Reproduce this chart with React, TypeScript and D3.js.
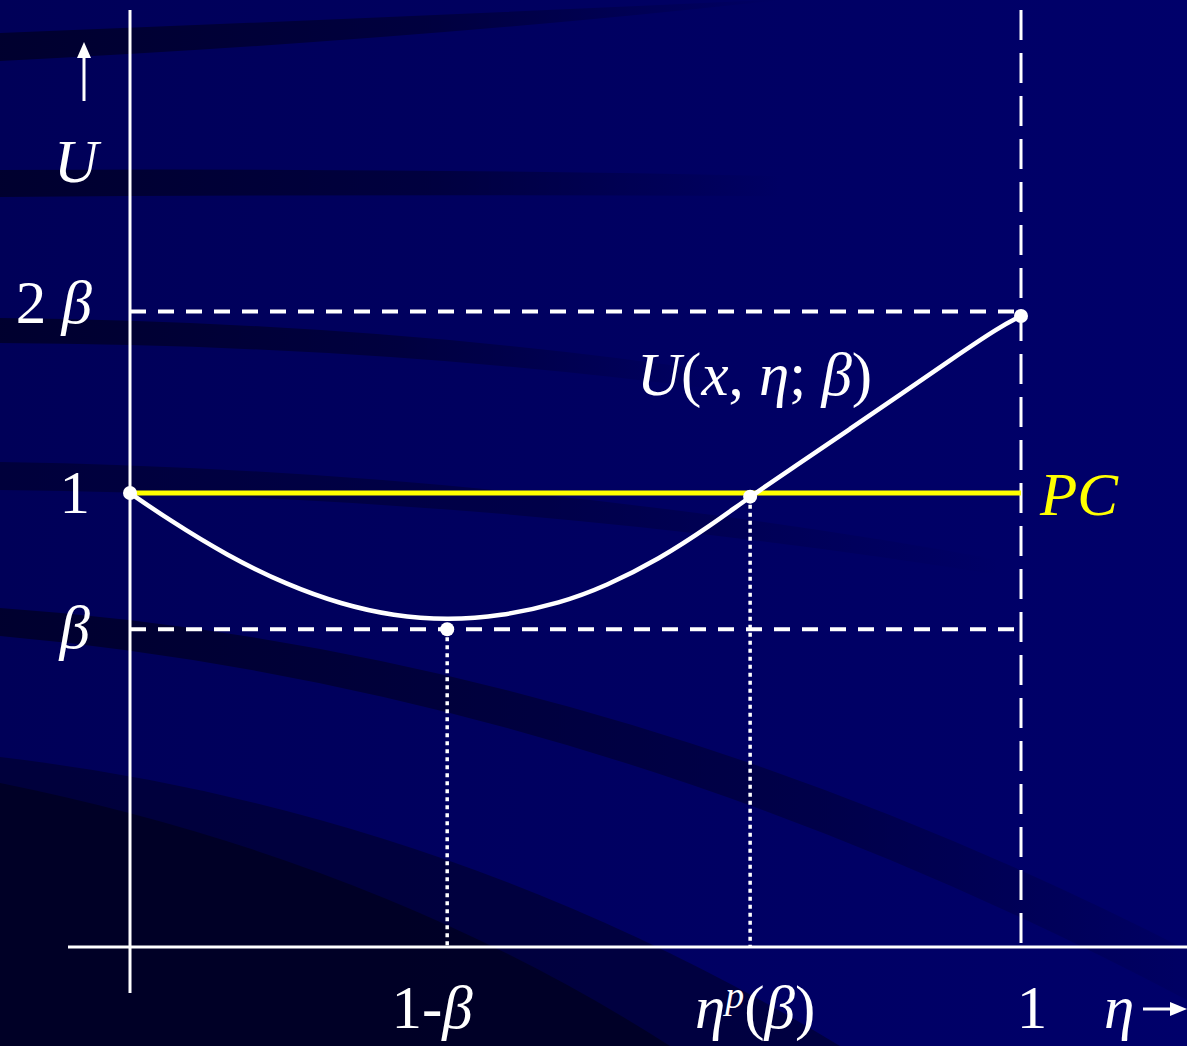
import React from "react";
import * as d3 from "d3";

const W = 1187;
const H = 1046;

// Curve U(x, η; β): η values and U values
const etaValues = [0, 0.042, 0.109, 0.177, 0.237, 0.296, 0.356, 0.415, 0.484, 0.534, 0.593, 0.653, 0.696, 0.752, 0.808, 0.864, 0.92, 0.976, 1.0];
const uValues = [1.0, 0.943, 0.862, 0.797, 0.755, 0.729, 0.72, 0.728, 0.758, 0.795, 0.853, 0.93, 0.992, 1.066, 1.141, 1.216, 1.292, 1.366, 1.39];

const beta = 0.7;
const PC = 1.0;
// marker points (η, U)
const markerEta = [0, 0.356, 0.696, 1.0];
const markerU = [1.0, 0.7, 0.992, 1.39];

const x = d3.scaleLinear().domain([0, 1]).range([130, 1021]);
const y = d3.scaleLinear().domain([0, 1]).range([947, 493]);

const serif = "'Liberation Serif', 'Times New Roman', 'DejaVu Serif', serif";
const FS = 61;

export default function App() {
  const pts: [number, number][] = etaValues.map((e, i) => [e, uValues[i]]);
  const line = d3
    .line<[number, number]>()
    .x((d) => x(d[0]))
    .y((d) => y(d[1]))
    .curve(d3.curveBasis);

  const band = "#00002a";
  return (
    <svg
      width={W}
      height={H}
      style={{ position: "absolute", left: 0, top: 0, display: "block" }}
      fontFamily={serif}
    >
      <defs>
        <linearGradient id="bg" x1="0" y1="0" x2="1" y2="0">
          <stop offset="0" stopColor="#000058" />
          <stop offset="1" stopColor="#00006a" />
        </linearGradient>
        <linearGradient id="fadeR" x1="0" y1="0" x2="1" y2="0">
          <stop offset="0" stopColor={band} stopOpacity={0.9} />
          <stop offset="0.55" stopColor={band} stopOpacity={0.6} />
          <stop offset="1" stopColor={band} stopOpacity={0} />
        </linearGradient>
        <linearGradient id="fadeR2" x1="0" y1="0" x2="1" y2="0">
          <stop offset="0" stopColor={band} stopOpacity={0.9} />
          <stop offset="0.7" stopColor={band} stopOpacity={0.45} />
          <stop offset="1" stopColor={band} stopOpacity={0.1} />
        </linearGradient>
      </defs>
      <rect x={0} y={0} width={W} height={H} fill="url(#bg)" />
      {/* background streaks */}
      <path d="M0,33 Q380,18 770,0 L780,0 Q420,40 0,61 Z" fill="url(#fadeR)" />
      <path d="M0,170 Q400,168 780,176 L780,196 Q400,194 0,197 Z" fill="url(#fadeR)" />
      <path d="M0,318 Q380,322 720,372 L720,390 Q380,345 0,343 Z" fill="url(#fadeR)" />
      <path d="M0,462 Q500,470 1000,560 L1000,575 Q500,495 0,490 Z" fill="url(#fadeR)" opacity={0.7} />
      <path d="M0,608 Q600,650 1187,950 L1187,1000 Q600,690 0,636 Z" fill="url(#fadeR2)" />
      <path d="M0,757 Q450,810 840,1046 L0,1046 Z" fill={band} opacity={0.6} />
      <path d="M0,783 Q380,860 670,1046 L0,1046 Z" fill="#000018" opacity={0.6} />

      {/* axes */}
      <line x1={x(0)} x2={x(0)} y1={10} y2={993} stroke="#fff" strokeWidth={3} />
      <line x1={68} x2={W} y1={y(0)} y2={y(0)} stroke="#fff" strokeWidth={3} />

      {/* dashed guides */}
      <line x1={x(0)} x2={x(1)} y1={y(2 * beta)} y2={y(2 * beta)} stroke="#fff" strokeWidth={4} strokeDasharray="16 12" />
      <line x1={x(0)} x2={x(1) - 6} y1={y(beta)} y2={y(beta)} stroke="#fff" strokeWidth={4} strokeDasharray="16 12" />
      <line x1={x(1)} x2={x(1)} y1={10} y2={y(0)} stroke="#fff" strokeWidth={3} strokeDasharray="30 13" />
      {/* dotted drops */}
      <line x1={x(markerEta[1])} x2={x(markerEta[1])} y1={y(markerU[1])} y2={y(0)} stroke="#fff" strokeWidth={3.5} strokeDasharray="4 4" />
      <line x1={x(markerEta[2])} x2={x(markerEta[2])} y1={y(markerU[2])} y2={y(0)} stroke="#fff" strokeWidth={3.5} strokeDasharray="4 4" />

      {/* PC line */}
      <line x1={x(0)} x2={x(1)} y1={y(PC)} y2={y(PC)} stroke="#ffff00" strokeWidth={5} />

      {/* curve */}
      <path d={line(pts) || ""} fill="none" stroke="#fff" strokeWidth={4.5} />

      {/* markers */}
      {markerEta.map((e, i) => (
        <circle key={i} cx={x(e)} cy={y(markerU[i])} r={7} fill="#fff" />
      ))}

      {/* up arrow */}
      <line x1={84} x2={84} y1={101} y2={56} stroke="#fff" strokeWidth={3} />
      <path d="M84,42 L77,58 L91,58 Z" fill="#fff" />
      {/* right arrow */}
      <line x1={1143} x2={1172} y1={1009} y2={1009} stroke="#fff" strokeWidth={3} />
      <path d="M1187,1009 L1170,1002 L1170,1016 Z" fill="#fff" />

      {/* labels */}
      <g fill="#fff" fontSize={FS}>
        <text x={76} y={182} textAnchor="middle" fontStyle="italic">U</text>
        <text x={92} y={323} textAnchor="end">
          2 <tspan fontStyle="italic">β</tspan>
        </text>
        <text x={90} y={513} textAnchor="end">1</text>
        <text x={90} y={648} textAnchor="end" fontStyle="italic">β</text>
        <text x={637} y={395}>
          <tspan fontStyle="italic">U</tspan>(<tspan fontStyle="italic">x</tspan>, <tspan fontStyle="italic">η</tspan>; <tspan fontStyle="italic">β</tspan>)
        </text>
        <text x={432} y={1028} textAnchor="middle">
          1-<tspan fontStyle="italic">β</tspan>
        </text>
        <text x={695} y={1028}>
          <tspan fontStyle="italic">η</tspan>
          <tspan fontStyle="italic" fontSize={FS * 0.62} dy={-20}>p</tspan>
          <tspan dy={20}>(</tspan>
          <tspan fontStyle="italic">β</tspan>)
        </text>
        <text x={1032} y={1028} textAnchor="middle">1</text>
        <text x={1104} y={1028} fontStyle="italic">η</text>
      </g>
      <text x={1040} y={515} fill="#ffff00" fontSize={FS} fontStyle="italic" fontFamily={serif}>PC</text>
    </svg>
  );
}
